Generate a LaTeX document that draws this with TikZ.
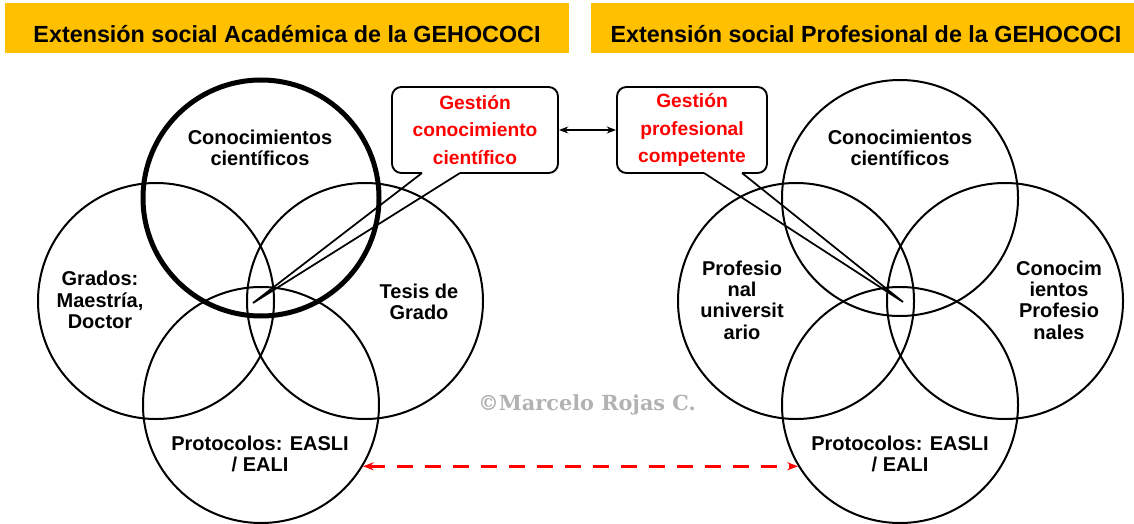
\documentclass[tikz,border=0pt]{standalone}
\usepackage{fontspec}
\setmainfont{Liberation Sans}
\newfontfamily\markfont{DejaVu Serif}
\usetikzlibrary{arrows.meta}
\definecolor{bannergold}{HTML}{FFC000}
\tikzset{
  ring/.style={circle, draw, line width=1.5pt, minimum size=177pt, inner sep=0pt},
  lbl/.style={font=\bfseries\fontsize{15}{16}\selectfont, align=center},
  headline/.style={anchor=base, font=\bfseries\fontsize{17.5}{20}\selectfont},
  callout/.style={draw, line width=1.4pt, rounded corners=7pt, fill=white,
    minimum height=64.5pt, inner sep=0pt, align=center, text=red,
    font=\bfseries\fontsize{14.4}{20.6}\selectfont},
  pointer/.style={line width=1.3pt},
}
\begin{document}
\begin{tikzpicture}[x=0.75pt, y=-0.75pt]
    \useasboundingbox (0,0) rectangle (1134,524);

    % banners
    \fill[bannergold] (5,3) rectangle (569,53);
    \fill[bannergold] (591,3) rectangle (1134,53);
    \node[headline] (ta) at (287,43) {Extensión social Académica de la GEHOCOCI};
    \node[headline] (tp) at (866,43) {Extensión social Profesional de la GEHOCOCI};

    % academic circles
    \node[ring, line width=3.75pt] (at) at (261,198) {};
    \node[ring] (al) at (156,301) {};
    \node[ring] (ar) at (365,301) {};
    \node[ring] (ab) at (261,405) {};
    \node[lbl] (atl) at (260,148) {Conocimientos\\científicos};
    \node[lbl] (all) at (100,300) {Grados:\\Maestría,\\Doctor};
    \node[lbl] (arl) at (419,302) {Tesis de\\Grado};
    \node[lbl] (abl) at (260,454) {Protocolos: EASLI\\/ EALI};

    % professional circles
    \node[ring] (pt) at (900,198) {};
    \node[ring] (pl) at (796,301) {};
    \node[ring] (pr) at (1005,301) {};
    \node[ring] (pb) at (900,405) {};
    \node[lbl] (ptl) at (900,148) {Conocimientos\\científicos};
    \node[lbl] (pll) at (742,300) {Profesio\\nal\\universit\\ario};
    \node[lbl] (prl) at (1059,300) {Conocim\\ientos\\Profesio\\nales};
    \node[lbl] (pbl) at (900,454) {Protocolos: EASLI\\/ EALI};

    % callouts
    \node[callout, minimum width=124.5pt] (gcc) at (475,130) {Gestión\\conocimiento\\científico};
    \node[callout, minimum width=112.5pt] (gpc) at (692,130) {Gestión\\profesional\\competente};
    \coordinate (gcc-a) at (422,173); \coordinate (gcc-b) at (460,173); \coordinate (gcc-tip) at (253,303);
    \coordinate (gpc-a) at (704,173); \coordinate (gpc-b) at (742,173); \coordinate (gpc-tip) at (903,302);
    \draw[white, line width=2.4pt] (gcc-a) -- (gcc-b);
    \draw[white, line width=2.4pt] (gpc-a) -- (gpc-b);
    \draw[pointer] (gcc-a) -- (gcc-tip) -- (gcc-b);
    \draw[pointer] (gpc-a) -- (gpc-tip) -- (gpc-b);

    \draw[line width=1.2pt, {Stealth[length=7pt]}-{Stealth[length=7pt]}] (gcc.east) -- (gpc.west);
    \draw[red, line width=2pt, dash pattern=on 11.5pt off 9.5pt, {Stealth[length=8pt]}-{Stealth[length=8pt]}] (ab.-31.7) -- (pb.211.7);

    \node[text=black!30, font=\markfont\bfseries\fontsize{15.6}{16}\selectfont] (wm) at (587,405) {©Marcelo Rojas C.};
\end{tikzpicture}
\end{document}
